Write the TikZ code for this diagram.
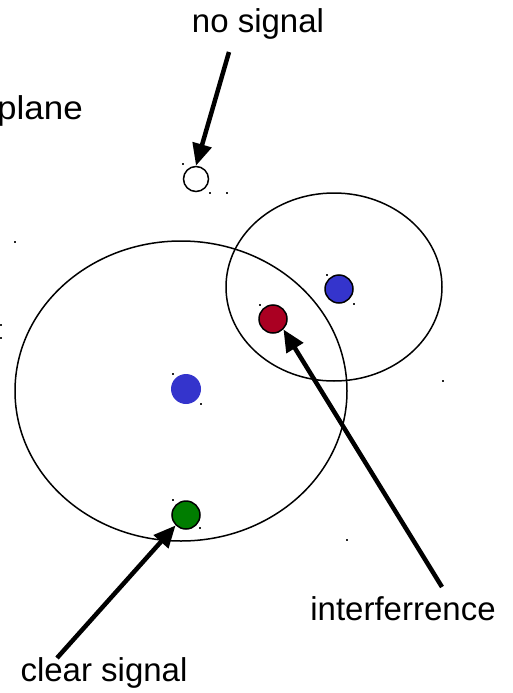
\documentclass[tikz,border=0pt]{standalone}
\usepackage{fontspec}
\setmainfont{Liberation Sans}
\usetikzlibrary{arrows.meta}
\definecolor{dotblue}{RGB}{52,52,204}
\definecolor{dotred}{RGB}{170,0,34}
\definecolor{dotgreen}{RGB}{0,125,0}
\begin{document}
\begin{tikzpicture}[x=1pt,y=-1pt,
  lbl/.style={font=\fontsize{33}{40}\selectfont, inner sep=0pt},
  dot/.style={circle, minimum size=28pt, inner sep=0pt, draw=black, line width=1.5pt},
  rangeline/.style={draw=black, line width=1.5pt},
  speck/.style={fill=black!85},
  pointer/.style={line width=4.5pt, -{Triangle[length=22pt,width=19pt]}, shorten >=0pt}
]
\useasboundingbox (0,0) rectangle (512,693);
% range ellipses
\draw[rangeline] (181,391) ellipse [x radius=166, y radius=150];
\draw[rangeline] (334,287) ellipse [x radius=108, y radius=94];
% dots
\node[dot, fill=white, minimum size=25pt] (empty) at (196,179) {};
\node[dot, fill=dotblue] (blueR) at (339,289) {};
\node[dot, fill=dotred] (red) at (273,319) {};
\node[dot, fill=dotblue, draw=none, minimum size=30pt] (blueL) at (186,389) {};
\node[dot, fill=dotgreen] (green) at (186,515) {};
% small selection specks
\foreach \p in {(15,242),(1,325),(1,338),(183,164),(210,193),(227,193),
  (327,275),(354,304),(260,305),(173,374),(201,404),(173,500),(200,528),
  (443,381),(347,540)}
  \fill[speck] \p ++(-1,-0.8) rectangle ++(2,1.6);
% labels
\node[lbl] (nosig) at (258,24) {no signal};
\node[lbl, anchor=east, xscale=1.06] (plane) at (83,111) {plane};
\node[lbl] (interf) at (403,609) {interferrence};
\node[lbl] (clear) at (104,673) {clear signal};
% pointers
\coordinate (t1) at (229,52);
\coordinate (t2) at (442,587);
\coordinate (t3) at (57,658);
\draw[pointer] (t1) -- (empty.north);
\draw[pointer] (t2) -- (red.south east);
\draw[pointer] (t3) -- (green.south west);
\end{tikzpicture}
\end{document}
